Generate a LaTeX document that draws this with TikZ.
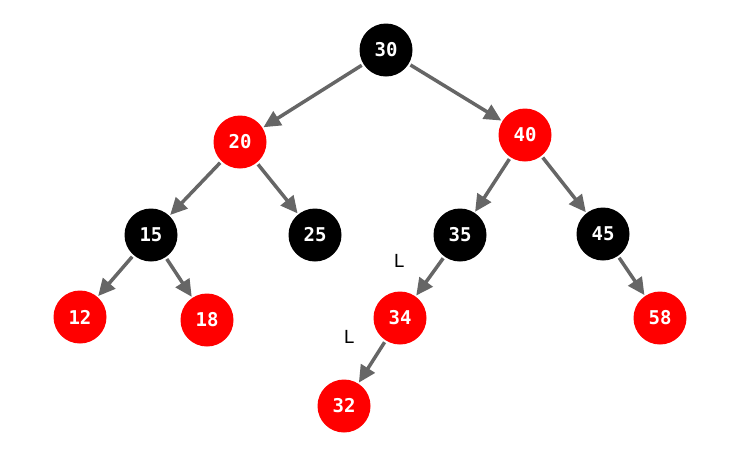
\documentclass[tikz,border=0pt]{standalone}
\usepackage{fontspec}
\newfontfamily\nodefont{DejaVu Sans Mono}
\newfontfamily\labfont{DejaVu Sans}
\usetikzlibrary{arrows.meta}
\definecolor{rbred}{HTML}{FF0000}
\definecolor{edgegray}{HTML}{666666}
\tikzset{
  rbnode/.style={circle, minimum size=53pt, inner sep=0pt, text=white,
    font=\nodefont\bfseries\fontsize{19}{19}\selectfont},
  blk/.style={rbnode, fill=black},
  red/.style={rbnode, fill=rbred},
  edgearrow/.style={draw=edgegray, line width=3.5pt,
    -{Triangle[length=17pt,width=16pt]}, shorten <=2pt, shorten >=1pt},
  sidelabel/.style={font=\labfont\fontsize{18}{18}\selectfont, text=black}
}
\begin{document}
\begin{tikzpicture}[x=1pt,y=-1pt]
\useasboundingbox (0,0) rectangle (750,472);
\node[blk] (n30) at (386,50) {30};
\node[red] (n20) at (240,142) {20};
\node[red] (n40) at (525,135) {40};
\node[blk] (n15) at (151,235) {15};
\node[blk] (n25) at (315,235) {25};
\node[blk] (n35) at (460,235) {35};
\node[blk] (n45) at (603,234) {45};
\node[red] (n12) at (80,317) {12};
\node[red] (n18) at (207,320) {18};
\node[red] (n34) at (400,318) {34};
\node[red] (n58) at (660,318) {58};
\node[red] (n32) at (344,406) {32};
\node[sidelabel] (l1) at (399,261) {L};
\node[sidelabel] (l2) at (349,337) {L};
\draw[edgearrow] (n30) -- (n20);
\draw[edgearrow] (n30) -- (n40);
\draw[edgearrow] (n20) -- (n15);
\draw[edgearrow] (n20) -- (n25);
\draw[edgearrow] (n40) -- (n35);
\draw[edgearrow] (n40) -- (n45);
\draw[edgearrow] (n15) -- (n12);
\draw[edgearrow] (n15) -- (n18);
\draw[edgearrow] (n35) -- (n34);
\draw[edgearrow] (n45) -- (n58);
\draw[edgearrow] (n34) -- (n32);
\end{tikzpicture}
\end{document}
